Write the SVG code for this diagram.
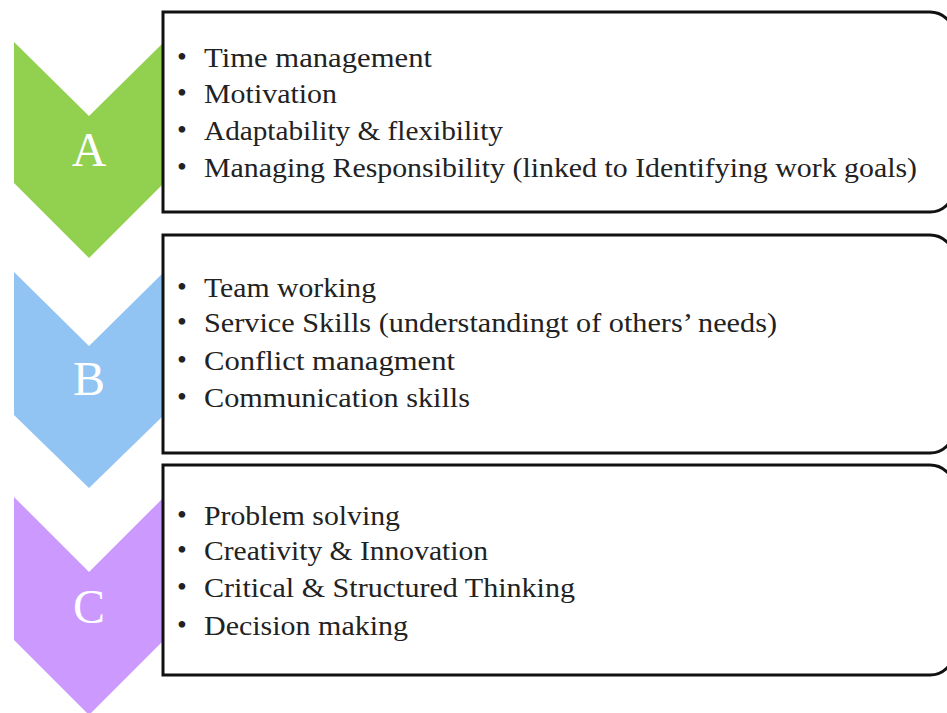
<svg xmlns="http://www.w3.org/2000/svg" width="947" height="713" viewBox="0 0 947 713">
<style>
.chev-a{fill:#92D050}
.chev-b{fill:#91C3F3}
.chev-c{fill:#CC99FF}
.letter{font-family:"Liberation Serif","Times New Roman",serif;font-size:48px;fill:#ffffff;text-anchor:middle}
.box{fill:#ffffff;stroke:#111111;stroke-width:3}
.item{font-family:"Liberation Serif","Times New Roman",serif;font-size:27px;fill:#222222}
.bul{font-family:"Liberation Serif","Times New Roman",serif;font-size:28px;fill:#222222}
</style>
<rect width="947" height="713" fill="#ffffff"/>
<g id="nodeA">
<polygon class="chev-a" points="14,42 89,116 164,42 164,183 89,258 14,183"/>
<text class="letter" x="89" y="166">A</text>
<path class="box" d="M163,12 H930 A24,24 0 0 1 954,36 V188 A24,24 0 0 1 930,212 H163 Z"/>
<text class="bul" x="177" y="66">•</text><text class="item" x="204" y="67" textLength="228" lengthAdjust="spacingAndGlyphs">Time management</text>
<text class="bul" x="177" y="102">•</text><text class="item" x="204" y="103" textLength="133" lengthAdjust="spacingAndGlyphs">Motivation</text>
<text class="bul" x="177" y="139">•</text><text class="item" x="204" y="140" textLength="299" lengthAdjust="spacingAndGlyphs">Adaptability &amp; flexibility</text>
<text class="bul" x="177" y="176">•</text><text class="item" x="204" y="177" textLength="713" lengthAdjust="spacingAndGlyphs">Managing Responsibility  (linked to Identifying work goals)</text>
</g>
<g id="nodeB">
<polygon class="chev-b" points="14,272 89,346 164,272 164,415 89,488 14,415"/>
<text class="letter" x="89" y="395">B</text>
<path class="box" d="M163,235 H930 A24,24 0 0 1 954,259 V429 A24,24 0 0 1 930,453 H163 Z"/>
<text class="bul" x="177" y="296">•</text><text class="item" x="204" y="297" textLength="172" lengthAdjust="spacingAndGlyphs">Team working</text>
<text class="bul" x="177" y="331">•</text><text class="item" x="204" y="332" textLength="573" lengthAdjust="spacingAndGlyphs">Service Skills (understandingt of others’ needs)</text>
<text class="bul" x="177" y="369">•</text><text class="item" x="204" y="370" textLength="251" lengthAdjust="spacingAndGlyphs">Conflict managment</text>
<text class="bul" x="177" y="406">•</text><text class="item" x="204" y="407" textLength="266" lengthAdjust="spacingAndGlyphs">Communication skills</text>
</g>
<g id="nodeC">
<polygon class="chev-c" points="14,497 89,572 164,497 164,640 89,715 14,640"/>
<text class="letter" x="89" y="623">C</text>
<path class="box" d="M163,465 H930 A24,24 0 0 1 954,489 V651 A24,24 0 0 1 930,675 H163 Z"/>
<text class="bul" x="177" y="524">•</text><text class="item" x="204" y="525" textLength="196" lengthAdjust="spacingAndGlyphs">Problem solving</text>
<text class="bul" x="177" y="559">•</text><text class="item" x="204" y="560" textLength="284" lengthAdjust="spacingAndGlyphs">Creativity &amp; Innovation</text>
<text class="bul" x="177" y="596">•</text><text class="item" x="204" y="597" textLength="371" lengthAdjust="spacingAndGlyphs">Critical &amp; Structured Thinking</text>
<text class="bul" x="177" y="634">•</text><text class="item" x="204" y="635" textLength="204" lengthAdjust="spacingAndGlyphs">Decision making</text>
</g>
<g id="connectors"></g>
</svg>
